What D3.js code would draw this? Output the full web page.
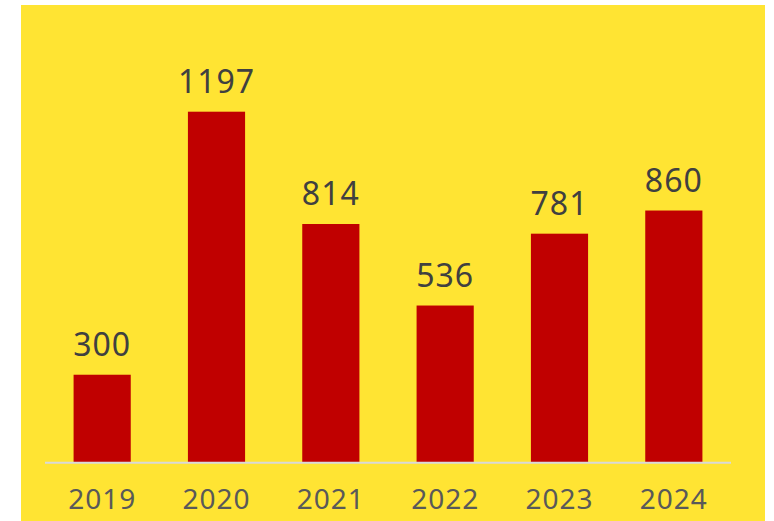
<!DOCTYPE html>
<html>
<head>
<meta charset="utf-8">
<script src="https://cdn.jsdelivr.net/npm/d3@7"></script>
<style>
  body { margin: 0; background: #fff; }
</style>
</head>
<body>
<div id="chart"></div>
<script>
  let years = ["2019", "2020", "2021", "2022", "2023", "2024"]
  let values = [300, 1197, 814, 536, 781, 860]

  let width = 774
  let height = 521

  let svg = d3.select("#chart")
    .append("svg")
    .attr("width", width)
    .attr("height", height)

  // yellow panel
  svg.append("rect")
    .attr("x", 21)
    .attr("y", 5)
    .attr("width", 744)
    .attr("height", height - 5)
    .attr("fill", "#ffe433")

  let x = d3.scaleBand()
    .domain(years)
    .range([45, 731])
    .paddingInner(0.5)
    .paddingOuter(0.25)

  let y = d3.scaleLinear()
    .domain([0, 1197])
    .range([462.7, 111.7])

  svg.append("g")
    .selectAll("rect")
    .data(values)
    .enter().append("rect")
      .attr("x", (d, i) => x(years[i]))
      .attr("y", d => y(d))
      .attr("width", x.bandwidth())
      .attr("height", d => y(0) - y(d))
      .attr("fill", "#c00000")

  // baseline
  svg.append("line")
    .attr("x1", 45)
    .attr("x2", 731)
    .attr("y1", y(0))
    .attr("y2", y(0))
    .attr("stroke", "#d9d9d9")
    .attr("stroke-width", 2)

  // value labels
  svg.append("g")
    .attr("fill", "#404040")
    .attr("text-anchor", "middle")
    .style("font", "32px 'Noto Sans', sans-serif")
    .style("letter-spacing", "1px")
    .selectAll("text")
    .data(values)
    .enter().append("text")
      .attr("x", (d, i) => x(years[i]) + x.bandwidth() / 2)
      .attr("y", d => y(d) - 19)
      .text(d => d)

  // category labels
  let xAxis = g => g
    .attr("transform", `translate(0,${y(0)})`)
    .call(d3.axisBottom(x).tickSize(0).tickPadding(0))
    .call(g => g.select(".domain").remove())
    .call(g => g.selectAll("text")
      .attr("dy", 0)
      .attr("y", 46)
      .attr("fill", "#595959")
      .style("font", "28px 'Noto Sans', sans-serif")
      .style("letter-spacing", "1px"))

  svg.append("g")
    .call(xAxis)
</script>
</body>
</html>
